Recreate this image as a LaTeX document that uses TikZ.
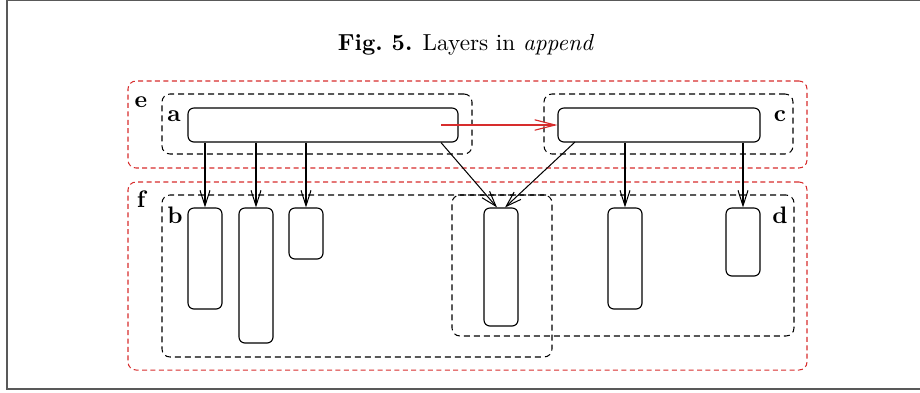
\documentclass[tikz,border=0pt]{standalone}
\usetikzlibrary{arrows.meta,fit}
\definecolor{myred}{RGB}{215,45,45}
\begin{document}
\begin{tikzpicture}[x=0.44pt,y=-0.44pt,
  box/.style={draw,rounded corners=2.6pt,inner sep=0pt,line width=0.5pt},
  grp/.style={draw,dash pattern=on 2.6pt off 1.8pt,rounded corners=3.5pt,inner sep=0pt,line width=0.45pt},
  layer/.style={draw=myred,dash pattern=on 2.2pt off 1.5pt,rounded corners=3.5pt,inner sep=0pt,line width=0.45pt},
  lbl/.style={font=\bfseries,inner sep=0pt,scale=1.05},
  arr/.style={-{Straight Barb[length=6.8pt,width=4.4pt]},line width=0.45pt},
  redarr/.style={draw=myred,-{Straight Barb[length=9pt,width=4.6pt]},line width=0.5pt},
  frame/.style={draw=black!65,line width=0.6pt}]
\useasboundingbox (0,0) rectangle (920,392);
\draw[frame] (920,0.5) -- (7,0.5) -- (7,389) -- (920,389);
\node[inner sep=0pt,scale=1.02] (title) at (466,45) {\textbf{Fig.~5.} Layers in \emph{append}};
% layers
\node[layer,fit={(128,81) (807,168)}] (e) {};
\node[layer,fit={(128,182) (807,370)}] (f) {};
% groups
\node[grp,fit={(162,94) (472,154)}] (ga) {};
\node[grp,fit={(544,94) (793,154)}] (gc) {};
\node[grp,fit={(162,195) (552,357)}] (gb) {};
\node[grp,fit={(452,195) (794,336)}] (gd) {};
% labels
\node[lbl] (le) at (141,102) {e};
\node[lbl] (la) at (174,116) {a};
\node[lbl] (lc) at (780,116) {c};
\node[lbl] (lf) at (141,199) {f};
\node[lbl] (lb) at (175,215) {b};
\node[lbl] (ld) at (780,215) {d};
% boxes
\node[box,fit={(188,108) (458,142)}] (a) {};
\node[box,fit={(558,108) (760,142)}] (c) {};
\node[box,fit={(188,208) (222,309)}] (b1) {};
\node[box,fit={(239,208) (273,343)}] (b2) {};
\node[box,fit={(289,208) (323,259)}] (b3) {};
\node[box,fit={(484,208) (518,326)}] (b4) {};
\node[box,fit={(608,208) (642,309)}] (d1) {};
\node[box,fit={(726,208) (760,276)}] (d2) {};
% anchor points
\coordinate (as) at (441,125);
\coordinate (cs) at (575,142);
% connectors
\draw[arr] (a.south -| b1.north) -- (b1.north);
\draw[arr] (a.south -| b2.north) -- (b2.north);
\draw[arr] (a.south -| b3.north) -- (b3.north);
\draw[arr] (a.south -| as) -- ([xshift=-1.76pt]b4.north);
\draw[arr] (cs) -- ([xshift=1.76pt]b4.north);
\draw[arr] (c.south -| d1.north) -- (d1.north);
\draw[arr] (c.south -| d2.north) -- (d2.north);
\draw[redarr] (as) -- (c.west);
\end{tikzpicture}
\end{document}
